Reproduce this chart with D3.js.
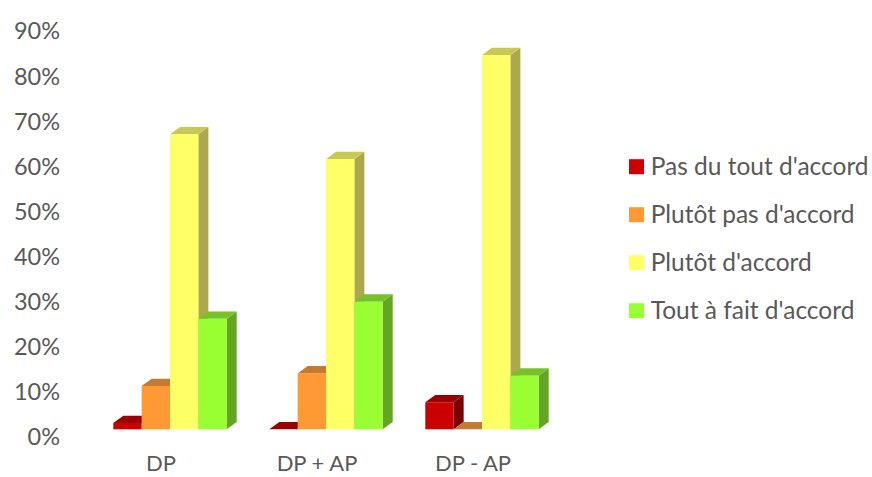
<!DOCTYPE html>
<html>
<head>
<meta charset="utf-8">
<script src="https://cdn.jsdelivr.net/npm/d3@7"></script>
<style>
  html, body { margin: 0; padding: 0; background: #fff; }
  svg text { font-family: Lato, "Open Sans", sans-serif; fill: #595959; }
</style>
</head>
<body>
<svg id="chart" width="872" height="477"></svg>
<script>
// Categories, series and values (percent)
const categories = ["DP", "DP + AP", "DP - AP"];
const seriesNames = ["Pas du tout d'accord", "Plutôt pas d'accord", "Plutôt d'accord", "Tout à fait d'accord"];
const pasDuTout   = [1.4, 0, 6.0];
const plutotPas   = [9.6, 12.4, 0];
const plutot      = [65.4, 59.9, 83.0];
const toutAFait   = [24.5, 28.3, 11.9];
const yTicks = [0, 10, 20, 30, 40, 50, 60, 70, 80, 90];

const seriesValues = [pasDuTout, plutotPas, plutot, toutAFait];
// front, top, side shades for each series
const faceColors = [
  { front: "#CC0000", top: "#990000", side: "#7A0000" },
  { front: "#FF9933", top: "#C47A30", side: "#B06A26" },
  { front: "#FFFF66", top: "#C8C857", side: "#AEA84C" },
  { front: "#99FF33", top: "#78C12A", side: "#64A522" }
];

const svg = d3.select("#chart");

// oblique depth offset of the 3D bars
const depthX = 10, depthY = -7.3;

const y = d3.scaleLinear().domain([0, 90]).range([429.3, 23.4]);
const x0 = d3.scaleBand().domain(categories).range([92, 560]).paddingInner(0.273).paddingOuter(0.1365);
const x1 = d3.scaleBand().domain(d3.range(seriesNames.length)).range([0, x0.bandwidth()]);

// value axis labels sit on the floor's front edge
const yAxis = d3.axisLeft(d3.scaleLinear().domain([0, 90]).range([y(0) - depthY, y(90) - depthY]))
  .tickValues(yTicks).tickFormat(d => d + "%").tickSize(0).tickPadding(0);
const gy = svg.append("g").attr("transform", "translate(60,0)").call(yAxis);
gy.select(".domain").remove();
gy.selectAll("text").style("font-size", "23.5px").attr("font-family", null).attr("fill", "#595959").attr("dy", "0.35em");

// category labels
const xAxis = d3.axisBottom(x0).tickSize(0).tickPadding(0);
const gx = svg.append("g").attr("transform", `translate(${-depthX * 0.9},455)`).call(xAxis);
gx.select(".domain").remove();
gx.selectAll("text").style("font-size", "22px").attr("font-family", null).attr("fill", "#595959").attr("dy", "0.71em");

// bars: within each group draw left to right so each front face hides the previous side
const bars = svg.append("g");
categories.forEach((cat, ci) => {
  seriesValues.forEach((vals, si) => {
    const v = vals[ci];
    const xl = x0(cat) + x1(si);
    const xr = xl + x1.bandwidth();
    const yt = y(v), yb = y(0);
    const c = faceColors[si];
    const g = bars.append("g");
    // side face
    g.append("path")
      .attr("d", `M${xr},${yt}L${xr + depthX},${yt + depthY}L${xr + depthX},${yb + depthY}L${xr},${yb}Z`)
      .attr("fill", c.side);
    // top face
    g.append("path")
      .attr("d", `M${xl},${yt}L${xl + depthX},${yt + depthY}L${xr + depthX},${yt + depthY}L${xr},${yt}Z`)
      .attr("fill", c.top);
    // front face
    if (yb - yt > 0.1) {
      g.append("rect")
        .attr("x", xl).attr("y", yt)
        .attr("width", xr - xl).attr("height", yb - yt)
        .attr("fill", c.front);
    }
  });
});

// legend
const legend = svg.append("g").attr("transform", "translate(629,0)");
seriesNames.forEach((name, i) => {
  const cy = 166.7 + i * 48;
  legend.append("rect").attr("x", 0).attr("y", cy - 7.5).attr("width", 15).attr("height", 15)
    .attr("fill", faceColors[i].front);
  legend.append("text").attr("x", 21.7).attr("y", cy).attr("dy", "0.35em")
    .style("font-size", "24.5px").text(name);
});
</script>
</body>
</html>
